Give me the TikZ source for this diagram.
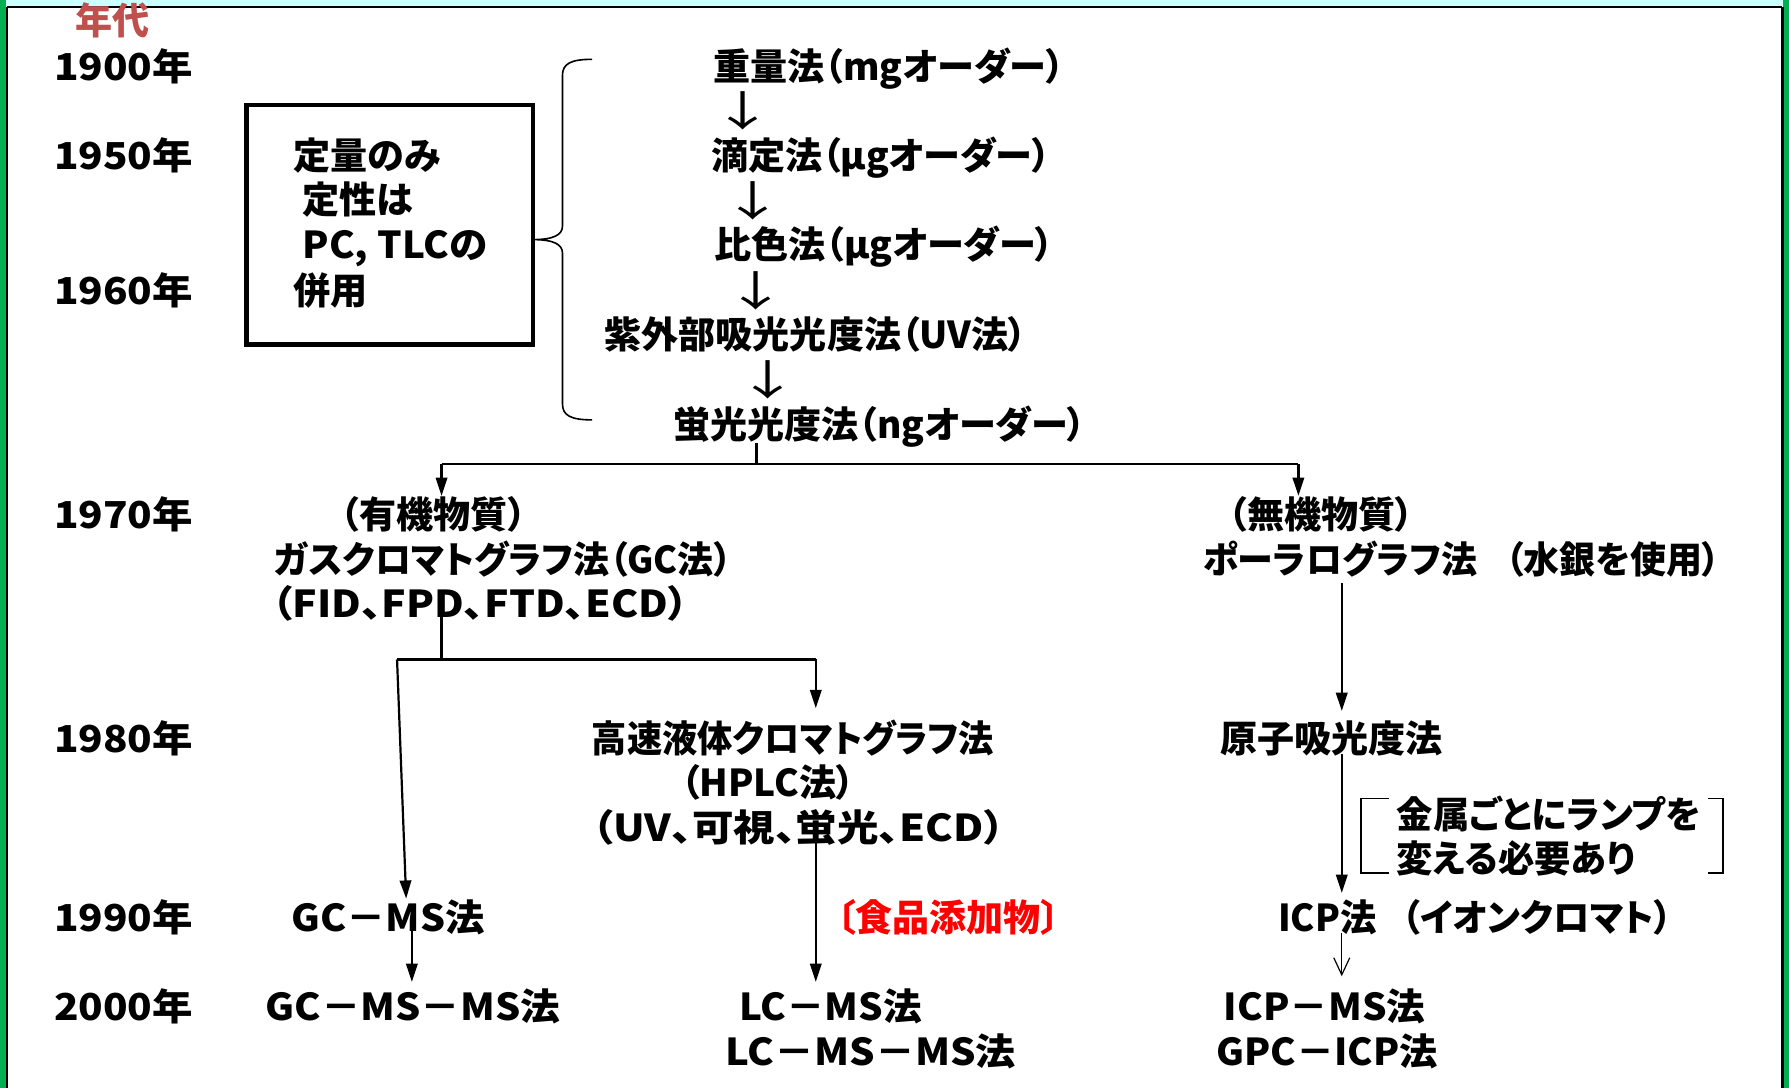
\documentclass[tikz,border=0pt]{standalone}
\usepackage{fontspec}
\usepackage{graphicx}
\setmainfont{Noto Sans CJK JP}[RawFeature={+palt}]
\usetikzlibrary{arrows.meta}
\definecolor{frgreen}{HTML}{00B050}
\definecolor{frcyan}{HTML}{CCFFFF}
\definecolor{titred}{HTML}{C0504D}
\newcommand{\hsq}[2]{\scalebox{#1}[1]{#2}}
\newcommand{\dnarrow}{{\mdseries\scalebox{1.7}[1.12]{↓}}}
\tikzset{
  txt/.style={font=\fontsize{18.5}{22}\selectfont\bfseries, inner sep=0pt, text height=0.57cm, text depth=0.07cm},
  arr/.style={line width=1.1pt, -{Triangle[length=0.32cm,width=0.2cm]}},
  thinarr/.style={line width=0.6pt, -{Straight Barb[length=0.3cm,width=0.28cm]}},
  plain/.style={line width=1.1pt},
  brace/.style={line width=0.8pt},
  lbox/.style={draw, line width=2.2pt, inner sep=0pt},
}
\begin{document}
\begin{tikzpicture}[x=0.02cm, y=-0.02cm]
\useasboundingbox (0,0) rectangle (1568,954);
% frame
\fill[white] (0,0) rectangle (1568,954);
\fill[frcyan] (0,0) rectangle (1568,5.5);
\fill[frgreen] (0,0) rectangle (5.2,954);
\fill[frgreen] (1563,0) rectangle (1568,954);
\draw[line width=1.2pt] (5.8,6.2) -- (1562,6.2);
\draw[line width=1pt] (5.8,6.2) -- (5.8,954);
\draw[line width=1.4pt] (1562,6.2) -- (1562,954);

% title and years
\node[txt, text=titred] (title) at (99,18) {年代};
\node[txt, anchor=west] (y1900) at (47,58) {\hsq{1.09}{1900年}};
\node[txt, anchor=west] (y1950) at (47,136) {\hsq{1.09}{1950年}};
\node[txt, anchor=west] (y1960) at (47,254) {\hsq{1.09}{1960年}};
\node[txt, anchor=west] (y1970) at (47,451) {\hsq{1.09}{1970年}};
\node[txt, anchor=west] (y1980) at (47,647) {\hsq{1.09}{1980年}};
\node[txt, anchor=west] (y1990) at (47,804) {\hsq{1.09}{1990年}};
\node[txt, anchor=west] (y2000) at (47,882) {\hsq{1.09}{2000年}};

% box
\node[lbox, minimum width=5.02cm, minimum height=4.2cm] (box) at (341.5,197) {};
\node[txt, anchor=west] (b1) at (257,136) {定量のみ};
\node[txt, anchor=west] (b2) at (265,175) {定性は};
\node[txt, anchor=west] (b3) at (265,214) {\hsq{1.04}{PC, TLCの}};
\node[txt, anchor=west] (b4) at (257,254) {併用};

% brace
\coordinate (tip) at (467,210);
\draw[brace] (519,52) .. controls (500,52) and (493,56) .. (493,66) -- (493,198)
  .. controls (493,206) and (485,210) .. (tip)
  .. controls (485,210) and (493,214) .. (493,222) -- (493,354)
  .. controls (493,364) and (500,368) .. (519,368);

% early methods
\node[txt] (n1) at (779,58) {重量法（mgオーダー）};
\node[txt] (a1) at (651,98) {\dnarrow};
\node[txt] (n2) at (772,136) {滴定法（μgオーダー）};
\node[txt] (a2) at (660,177) {\dnarrow};
\node[txt] (n3) at (775,214) {比色法（μgオーダー）};
\node[txt] (a3) at (663,256) {\dnarrow};
\node[txt] (n4) at (715,293) {紫外部吸光光度法（UV法）};
\node[txt] (a4) at (673,334) {\dnarrow};
\node[txt] (n5) at (771,372) {蛍光光度法（ngオーダー）};

% organic branch
\node[txt] (o1) at (380,451) {（有機物質）};
\node[txt] (o2) at (441,490) {\hsq{0.97}{ガスクロマトグラフ法（GC法）}};
\node[txt] (o3) at (421,529) {\hsq{1.1}{（FID、FPD、FTD、ECD）}};
\node[txt] (h1) at (695,647) {\hsq{0.95}{高速液体クロマトグラフ法}};
\node[txt] (h2) at (673,686) {（HPLC法）};
\node[txt] (h3) at (700,725) {\hsq{1.12}{（UV、可視、蛍光、ECD）}};
\node[txt, text=red] (food) at (831,804) {〔食品添加物〕};
\node[txt] (gcms) at (340,804) {\hsq{1.06}{GC－MS法}};
\node[txt] (gcmsms) at (362,882) {\hsq{1.07}{GC－MS－MS法}};
\node[txt] (lcms) at (728,882) {\hsq{1.04}{LC－MS法}};
\node[txt] (lcmsms) at (763,921) {\hsq{1.08}{LC－MS－MS法}};

% inorganic branch
\node[txt] (i1) at (1158,451) {（無機物質）};
\node[txt] (i2) at (1281,490) {\hsq{0.97}{ポーラログラフ法\hspace{0.8em}（水銀を使用）}};
\node[txt] (aa) at (1167,647) {原子吸光度法};
\node[txt, anchor=west] (l1) at (1224,714) {\hsq{0.98}{金属ごとにランプを}};
\node[txt, anchor=west] (l2) at (1224,752) {\hsq{0.98}{変える必要あり}};
\node[txt] (icp) at (1293,804) {\hsq{0.98}{ICP法\hspace{0.7em}（イオンクロマト）}};
\node[txt] (icpms) at (1161,882) {\hsq{1.04}{ICP－MS法}};
\node[txt] (gpc) at (1163,921) {\hsq{1.03}{GPC－ICP法}};

% lamp brackets
\draw[line width=0.7pt] (1217,700) -- (1193,700) -- (1193,765) -- (1217,765);
\draw[line width=0.7pt] (1497,700) -- (1510,700) -- (1510,765) -- (1497,765);

% split from fluorescence
\coordinate (j0) at (663,407);
\coordinate (jL) at (387,407);
\coordinate (jR) at (1138,407);
\draw[plain] (n5.south -| j0) -- (j0);
\draw[plain] (jL) -- (jR);
\draw[arr] (jL) -- (jL |- o1.north);
\draw[arr] (jR) -- (jR |- i1.north);

% split from GC
\coordinate (k0) at (387,578);
\coordinate (kL) at (348,578);
\coordinate (kR) at (715,578);
\coordinate (g0) at (361,0);
\draw[plain] ([yshift=0.2cm]o3.south -| k0) -- (k0);
\draw[plain] (kL) -- (kR);
\draw[arr] (kL) -- ([xshift=0.32cm]gcms.north);
\draw[arr] (kR) -- ([yshift=0.2cm]kR |- h1.north);
\draw[arr] ([yshift=0.1cm]h3.south -| kR) -- ([yshift=0.1cm]lcms.north -| kR);
\draw[arr] ([yshift=0.15cm]gcms.south -| g0) -- ([yshift=0.1cm]gcmsms.north -| g0);

% inorganic arrows
\coordinate (m0) at (1176,515);
\draw[arr] ([yshift=-0.1cm]i2.south -| m0) -- ([yshift=0.15cm]aa.north -| m0);
\draw[arr] ([yshift=0.05cm]aa.south -| m0) -- ([yshift=0.1cm]icp.north -| m0);
\draw[thinarr] ([yshift=0.05cm]icp.south -| m0) -- ([yshift=0.2cm]icpms.north -| m0);
\end{tikzpicture}
\end{document}
